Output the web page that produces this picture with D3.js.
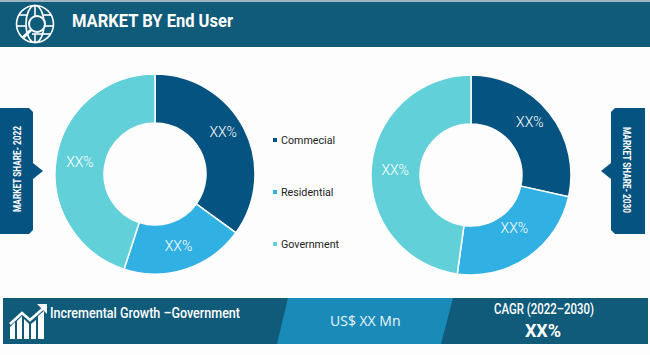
<!DOCTYPE html>
<html>
<head>
<meta charset="utf-8">
<script src="https://cdn.jsdelivr.net/npm/d3@7"></script>
<style>
  html, body { margin: 0; padding: 0; background: #fdfdfd; overflow: hidden; }
  text { font-family: Roboto, sans-serif; }
  .narrow { font-weight: 700; }
  .narrow-medium { font-weight: 500; }
</style>
</head>
<body>
<svg id="chart"></svg>
<script>
const categories = ['Commecial', 'Residential', 'Government']
const share2022 = [35, 20, 45]
const share2030 = [28.5, 23.7, 47.8]
const sliceLabels = ['XX%', 'XX%', 'XX%']
const sliceColors = ['#055380', '#31b0e3', '#62d0d9']

const titleText = 'MARKET BY End User'
const growthText = 'Incremental Growth \u2013Government'
const valueText = 'US$ XX Mn'
const cagrTitle = 'CAGR (2022\u20132030)'
const cagrValue = 'XX%'

const width = 650
const height = 355
const darkBlue = '#105b7a'
const midBlue = '#1a8ab8'
const panelBlue = '#055380'

const svg = d3.select('#chart').attr('width', width).attr('height', height)
    .attr('viewBox', [0, 0, width, height])
    .style('display', 'block')

svg.append('rect').attr('width', width).attr('height', height).attr('fill', '#fdfdfd')

// no condensed font here, so squeeze the glyphs to the measured width
function squeezed(sel, w){
    return sel.attr('textLength', w).attr('lengthAdjust', 'spacingAndGlyphs')
}

// header band
svg.append('rect').attr('x', 0).attr('y', 0).attr('width', width).attr('height', 2).attr('fill', '#9fb4bf')
svg.append('rect').attr('x', 0).attr('y', 2).attr('width', width).attr('height', 45).attr('fill', darkBlue)
squeezed(svg.append('text').attr('class', 'narrow').attr('x', 72).attr('y', 27)
    .attr('font-size', 19).attr('fill', 'white').text(titleText), 161)

globeIcon(svg.append('g').attr('transform', 'translate(35,24)'))

// donuts
const arc = d3.arc().innerRadius(51).outerRadius(100)
const labelArc = d3.arc().innerRadius(76).outerRadius(76)
const pie = d3.pie().sort(null)

function donut(values, cx, cy, nudges){
    const g = svg.append('g').attr('transform', `translate(${cx},${cy})`)
    const slices = pie(values)
    g.selectAll('path').data(slices).join('path')
        .attr('d', arc)
        .attr('fill', (d, i) => sliceColors[i])
        .attr('stroke', '#fdfdfd')
        .attr('stroke-width', 1.5)
    g.selectAll('text').data(slices).join('text')
        .attr('transform', (d, i) => {
            const [x, y] = labelArc.centroid(d)
            return `translate(${x + nudges[i][0]},${y + nudges[i][1]})`
        })
        .attr('text-anchor', 'middle')
        .attr('dy', '0.36em')
        .attr('font-size', 14)
        .attr('font-weight', 300)
        .attr('fill', 'white')
        .text((d, i) => sliceLabels[i])
}
donut(share2022, 155, 174, [[0.5, -8], [0, 0], [0, 0]])
donut(share2030, 471, 175, [[-0.5, -6], [0, -9], [0, 0]])

// legend
const legendY = d3.scalePoint().domain(categories).range([140, 244])
svg.selectAll('.legend-mark').data(categories).join('rect')
    .attr('class', 'legend-mark')
    .attr('x', 273).attr('y', d => legendY(d) - 2)
    .attr('width', 4).attr('height', 4)
    .attr('fill', (d, i) => sliceColors[i])
svg.selectAll('.legend-text').data(categories).join('text')
    .attr('class', 'legend-text')
    .attr('x', 281).attr('y', d => legendY(d)).attr('dy', '0.35em')
    .attr('font-size', 10.7).attr('fill', '#222').text(d => d)

// side panels
svg.append('path').attr('fill', panelBlue)
    .attr('d', 'M0,108H29L33,112V163L43,171L33,179V230L29,234H0Z')
squeezed(svg.append('text').attr('class', 'narrow').attr('text-anchor', 'middle')
    .attr('transform', 'translate(17,169) rotate(-90)').attr('dy', '0.35em')
    .attr('font-size', 11).attr('fill', 'white').text('MARKET SHARE- 2022'), 86)
svg.append('path').attr('fill', panelBlue)
    .attr('d', 'M645,108H615L611,112V163L601,171L611,179V230L615,234H645Z')
squeezed(svg.append('text').attr('class', 'narrow').attr('text-anchor', 'middle')
    .attr('transform', 'translate(627,170) rotate(90)').attr('dy', '0.35em')
    .attr('font-size', 11).attr('fill', 'white').text('MARKET SHARE- 2030'), 86)

// footer band
svg.append('rect').attr('x', 3).attr('y', 298).attr('width', 645).attr('height', 46).attr('fill', darkBlue)
svg.append('path').attr('fill', midBlue).attr('d', 'M288,298H453L441,344H277Z')
squeezed(svg.append('text').attr('class', 'narrow-medium').attr('x', 50).attr('y', 318)
    .attr('font-size', 15.5).attr('fill', 'white').text(growthText), 190)
svg.append('text').attr('x', 330).attr('y', 326).style('font-family', '"Open Sans", sans-serif')
    .attr('font-size', 14).attr('fill', '#eef6fa').text(valueText)
squeezed(svg.append('text').attr('class', 'narrow-medium').attr('x', 494).attr('y', 314)
    .attr('font-size', 14.5).attr('fill', 'white').text(cagrTitle), 100)
svg.append('text').attr('x', 543).attr('y', 337).attr('text-anchor', 'middle')
    .attr('font-size', 18).attr('font-weight', 700).attr('fill', 'white').text(cagrValue)

growthIcon(svg.append('g').attr('transform', 'translate(10,304)'))

function globeIcon(g){
    const stroke = { fill: 'none', stroke: 'white', 'stroke-width': 1.6 }
    const add = (tag, attrs) => {
        const el = g.append(tag)
        Object.entries({ ...stroke, ...attrs }).forEach(([k, v]) => el.attr(k, v))
        return el
    }
    add('circle', { r: 18.5 })
    add('ellipse', { rx: 9, ry: 18.5 })
    add('line', { x1: 0, x2: 0, y1: -18.5, y2: -8 })
    add('line', { x1: 0, x2: 0, y1: 10, y2: 18.5 })
    add('line', { x1: -16, x2: -7, y1: -9, y2: -9 })
    add('line', { x1: 7, x2: 16, y1: -9, y2: -9 })
    add('line', { x1: -18, x2: -9, y1: 2, y2: 2 })
    add('line', { x1: 10, x2: 18, y1: 2, y2: 2 })
    add('line', { x1: -3, x2: 16, y1: 10, y2: 10 })
    add('circle', { cx: 2, cy: 0, r: 8, fill: darkBlue, 'stroke-width': 2 })
    add('line', { x1: -4, y1: 6, x2: -12, y2: 13.5, 'stroke-width': 3 })
}

function growthIcon(g){
    // bars of the icon, shaped to the rising line above them
    const barX = d3.range(0, 5)
    g.selectAll('.icon-bar').data(barX).join('path')
        .attr('class', 'icon-bar')
        .attr('fill', 'white')
        .attr('d', i => ['M0,35V23L5,18V35Z', 'M7,35V17L12,12L12,35Z', 'M14,35V15L19,20V35Z', 'M21,35V20L26,16V35Z', 'M28,35V12L34,7V35Z'][i])
    g.append('path').attr('fill', 'none').attr('stroke', 'white').attr('stroke-width', 2.6)
        .attr('d', 'M0,20L12,9L20,16L36,2')
    g.append('path').attr('fill', 'white').attr('d', 'M27,0H37V10Z')
}
</script>
</body>
</html>
